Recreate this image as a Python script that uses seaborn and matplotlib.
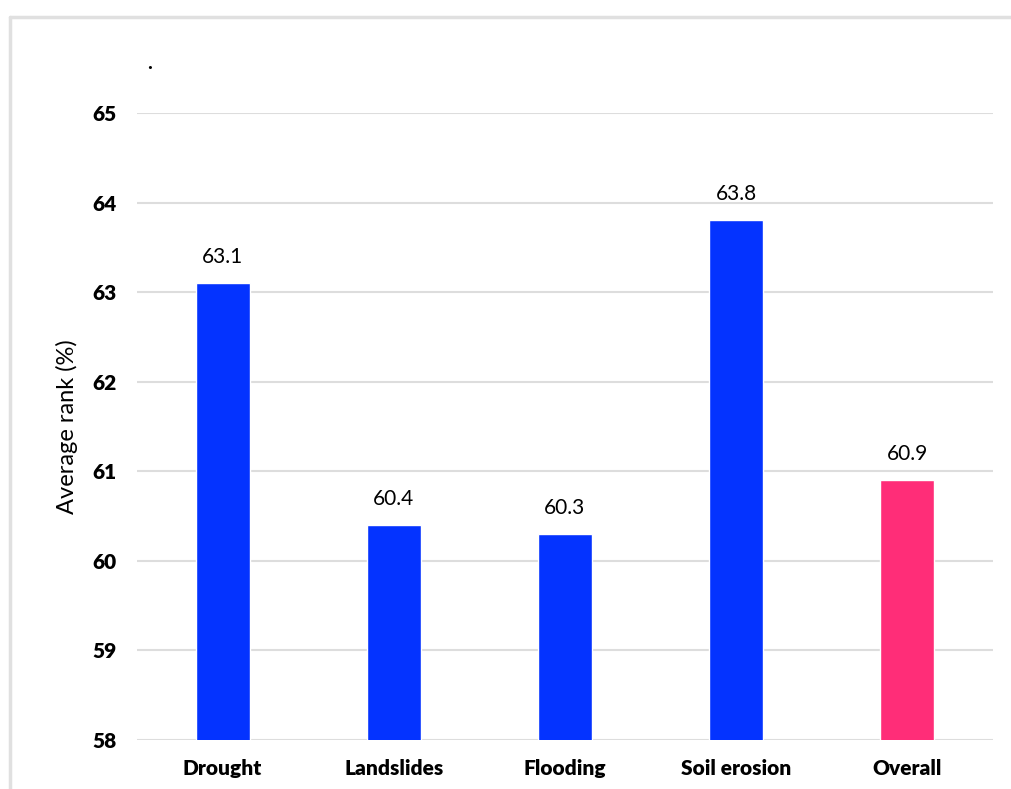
import matplotlib
matplotlib.use("Agg")
import matplotlib.pyplot as plt
import seaborn as sns
import pandas as pd
from matplotlib.lines import Line2D

categories = ["Drought", "Landslides", "Flooding", "Soil erosion", "Overall"]
values = [63.1, 60.4, 60.3, 63.8, 60.9]
groups = ["hazard", "hazard", "hazard", "hazard", "overall"]
y_ticks = [58, 59, 60, 61, 62, 63, 64, 65]

sns.set_theme(style="white")
plt.rcParams["font.family"] = ["Lato", "DejaVu Sans"]

df = pd.DataFrame({"category": categories, "value": values, "group": groups})

fig = plt.figure(figsize=(10.12, 7.89), dpi=100)
ax = fig.add_axes([0.1354, 0.0621, 0.981 - 0.1354, 0.8568 - 0.0621])

sns.barplot(data=df, x="category", y="value", hue="group",
            palette={"hazard": "#0433FF", "overall": "#FF2D78"},
            saturation=1, dodge=False, width=0.315, legend=False, ax=ax, zorder=3)

ax.set_ylim(58, 65)
ax.set_xlim(-0.5, 4.5)
ax.set_yticks(y_ticks)
ax.set_yticklabels([str(t) for t in y_ticks], fontsize=15, fontweight="heavy", color="black")
ax.set_xticklabels(categories, fontsize=15, fontweight="heavy", color="black")
ax.tick_params(axis="y", pad=15, length=0)
ax.tick_params(axis="x", pad=14, length=0)
ax.set_xlabel("")
ax.set_ylabel("Average rank (%)", fontsize=17, color="black", labelpad=10)
ax.yaxis.grid(True, color="#dddddd", linewidth=1.5, zorder=0)
ax.set_axisbelow(True)
for s in ax.spines.values():
    s.set_visible(False)

for i, v in enumerate(values):
    ax.text(i, v + 0.18, f"{v:.1f}", ha="center", va="bottom", fontsize=15, color="black")

# outer frame lines (left and top)
fx = 10 / 1012
fy = 1 - 17 / 789
fig.add_artist(Line2D([fx, fx], [0, fy], transform=fig.transFigure, color="#e0e0e0", linewidth=2.5))
fig.add_artist(Line2D([fx, 1], [fy, fy], transform=fig.transFigure, color="#e0e0e0", linewidth=2.5))
fig.text(150 / 1012, 1 - 63 / 789, ".", fontsize=15, fontweight="bold", ha="center", va="center", color="black")

fig.savefig("out.png", dpi=100)
